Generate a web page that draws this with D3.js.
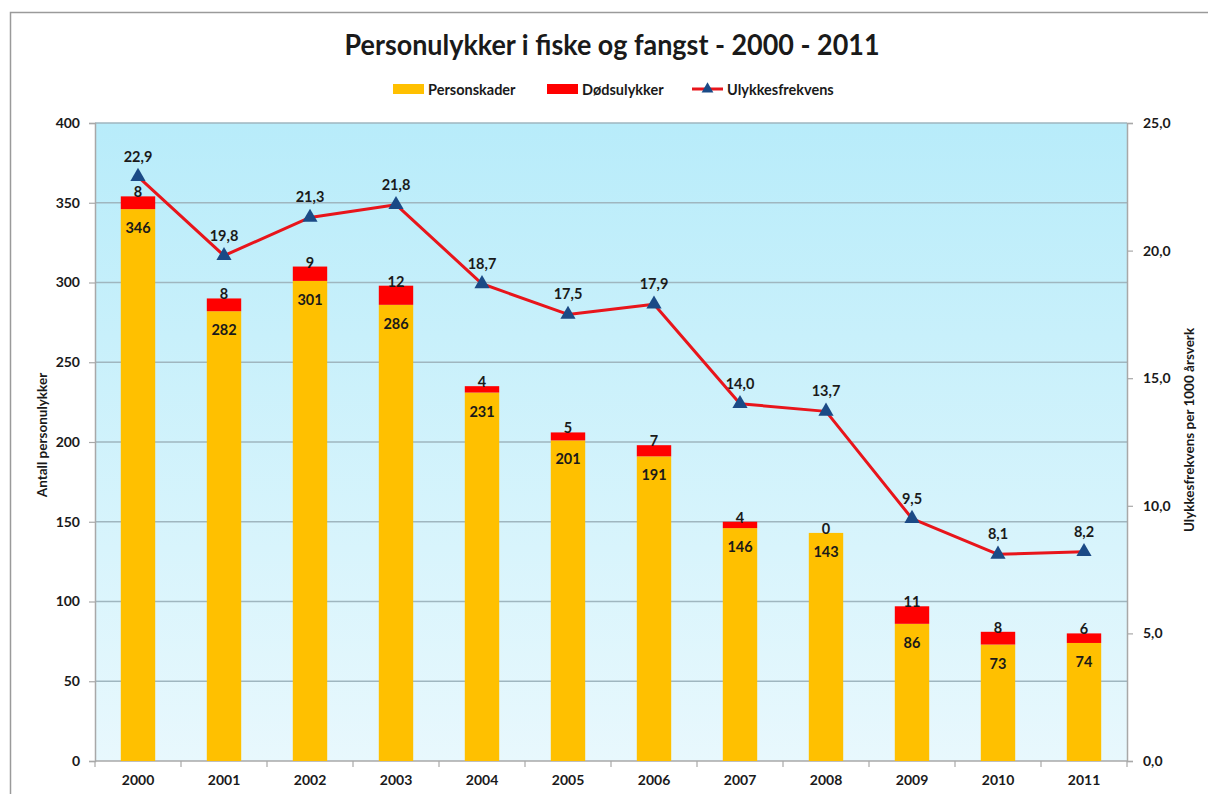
<!DOCTYPE html>
<html><head><meta charset="utf-8">
<script src="https://cdn.jsdelivr.net/npm/d3@7"></script>
<style>
html,body{margin:0;padding:0;background:#fff;}
text{font-family:Lato,"Open Sans",sans-serif;}
</style></head>
<body>
<svg id="chart" width="1208" height="794"></svg>
<script>
const years = ["2000","2001","2002","2003","2004","2005","2006","2007","2008","2009","2010","2011"];
const personskader = [346,282,301,286,231,201,191,146,143,86,73,74];
const dodsulykker = [8,8,9,12,4,5,7,4,0,11,8,6];
const frekvens = [22.9,19.8,21.3,21.8,18.7,17.5,17.9,14.0,13.7,9.5,8.1,8.2];
const leftTicks = [0,50,100,150,200,250,300,350,400];
const rightTicks = [0,5,10,15,20,25];

const svg = d3.select("#chart");
const m = {left:95, right:1127, top:123, bottom:761};

// outer frame
svg.append("rect").attr("x",10.5).attr("y",12.5).attr("width",1220).attr("height",800)
  .attr("fill","#fff").attr("stroke","#9a9a9a").attr("stroke-width",1.5);

const defs = svg.append("defs");
const grad = defs.append("linearGradient").attr("id","bg").attr("x1",0).attr("y1",0).attr("x2",0).attr("y2",1);
grad.append("stop").attr("offset","0%").attr("stop-color","#B8ECFA");
grad.append("stop").attr("offset","100%").attr("stop-color","#E8F8FD");

const x = d3.scaleBand().domain(years).range([m.left,m.right]).paddingInner(0.6).paddingOuter(0.3);
const xb = d3.scaleBand().domain(years).range([m.left,m.right]);
const yL = d3.scaleLinear().domain([0,400]).range([m.bottom,m.top]);
const yR = d3.scaleLinear().domain([0,25]).range([m.bottom,m.top]);

svg.append("rect").attr("x",m.left).attr("y",m.top).attr("width",m.right-m.left).attr("height",m.bottom-m.top)
  .attr("fill","url(#bg)");

// gridlines
svg.append("g").selectAll("line").data(leftTicks.filter(d=>d>0)).join("line")
  .attr("x1",m.left).attr("x2",m.right).attr("y1",d=>yL(d)).attr("y2",d=>yL(d))
  .attr("stroke","#9fb6bf").attr("stroke-width",1.5);

// axes
const axL = svg.append("g").attr("transform",`translate(${m.left},0)`)
  .call(d3.axisLeft(yL).tickValues(leftTicks).tickSize(6).tickPadding(9).tickFormat(d3.format("d")));
const axR = svg.append("g").attr("transform",`translate(${m.right},0)`)
  .call(d3.axisRight(yR).tickValues(rightTicks).tickSize(6).tickPadding(10).tickFormat(d=>d3.format(".1f")(d).replace(".",",")));
const axB = svg.append("g").attr("transform",`translate(0,${m.bottom})`)
  .call(d3.axisBottom(x).tickSize(0).tickPadding(14));
svg.append("g").selectAll("line").data(years.concat(["end"])).join("line")
  .attr("x1",(d,i)=>m.left+i*xb.bandwidth()).attr("x2",(d,i)=>m.left+i*xb.bandwidth())
  .attr("y1",m.bottom).attr("y2",m.bottom+6).attr("stroke","#a8a8a8").attr("stroke-width",1.2);

[axL,axR,axB].forEach(a=>{
  a.select(".domain").attr("stroke","#a8a8a8").attr("stroke-width",1.5);
  a.selectAll(".tick line").attr("stroke","#a8a8a8").attr("stroke-width",1.2);
  a.selectAll("text").attr("font-size",14).attr("font-weight","bold").attr("fill","#1a1a1a")
   .style("font-family","Lato, sans-serif");
});
axB.select(".domain").attr("d",`M${m.left},0H${m.right}`);

// bars
const bars = svg.append("g");
bars.selectAll("rect.p").data(years).join("rect").attr("class","p")
  .attr("x",d=>x(d)).attr("width",x.bandwidth())
  .attr("y",(d,i)=>yL(personskader[i])).attr("height",(d,i)=>yL(0)-yL(personskader[i]))
  .attr("fill","#FFC000");
bars.selectAll("rect.d").data(years).join("rect").attr("class","d")
  .attr("x",d=>x(d)).attr("width",x.bandwidth())
  .attr("y",(d,i)=>yL(personskader[i]+dodsulykker[i])).attr("height",(d,i)=>yL(personskader[i])-yL(personskader[i]+dodsulykker[i]))
  .attr("fill","#FF0000");

// bar labels
const lab = svg.append("g").attr("font-size",14.5).attr("font-weight","bold").attr("fill","#1a1a1a").attr("text-anchor","middle");
lab.selectAll("text.p").data(years).join("text").attr("class","p")
  .attr("x",d=>x(d)+x.bandwidth()/2).attr("y",(d,i)=>yL(personskader[i])+24)
  .text((d,i)=>personskader[i]);
lab.selectAll("text.d").data(years).join("text").attr("class","d")
  .attr("x",d=>x(d)+x.bandwidth()/2).attr("y",(d,i)=>yL(personskader[i]+dodsulykker[i])+1)
  .text((d,i)=>dodsulykker[i]);

// line
const cx = d=>x(d)+x.bandwidth()/2;
const line = d3.line().x((d,i)=>cx(years[i])).y(d=>yR(d));
svg.append("path").datum(frekvens).attr("d",line).attr("fill","none")
  .attr("stroke","#E8151B").attr("stroke-width",3).attr("stroke-linejoin","round");
const tri = d3.symbol().type(d3.symbolTriangle).size(100);
svg.append("g").selectAll("path").data(frekvens).join("path")
  .attr("d",tri).attr("transform",(d,i)=>`translate(${cx(years[i])},${yR(d)})`)
  .attr("fill","#1B4A86");
lab.selectAll("text.f").data(frekvens).join("text").attr("class","f")
  .attr("x",(d,i)=>cx(years[i])).attr("y",d=>yR(d)-15)
  .text(d=>d3.format(".1f")(d).replace(".",","));

// title
svg.append("text").attr("x",612).attr("y",55).attr("text-anchor","middle")
  .attr("font-size",28).attr("font-weight","bold").attr("fill","#1a1a1a")
  .attr("textLength",535).attr("lengthAdjust","spacingAndGlyphs")
  .text("Personulykker i fiske og fangst - 2000 - 2011");

// axis titles
svg.append("text").attr("transform","translate(47,435) rotate(-90)").attr("text-anchor","middle")
  .attr("font-size",13.5).attr("font-weight","bold").attr("fill","#1a1a1a").text("Antall personulykker");
svg.append("text").attr("transform","translate(1194,430) rotate(-90)").attr("text-anchor","middle")
  .attr("font-size",13.5).attr("font-weight","bold").attr("fill","#1a1a1a").text("Ulykkesfrekvens per 1000 årsverk");

// legend
const leg = svg.append("g").attr("font-size",14.5).attr("font-weight","bold").attr("fill","#1a1a1a");
const legItems = [
  {name:"Personskader", type:"rect", color:"#FFC000", x:393},
  {name:"Dødsulykker", type:"rect", color:"#FF0000", x:547},
  {name:"Ulykkesfrekvens", type:"line", color:"#E8151B", x:692}
];
legItems.forEach(it=>{
  if(it.type==="rect"){
    leg.append("rect").attr("x",it.x).attr("y",84).attr("width",31).attr("height",10).attr("fill",it.color);
  } else {
    leg.append("line").attr("x1",it.x).attr("x2",it.x+31).attr("y1",89).attr("y2",89).attr("stroke",it.color).attr("stroke-width",3);
    leg.append("path").attr("d",d3.symbol().type(d3.symbolTriangle).size(60)).attr("transform",`translate(${it.x+15.5},89)`).attr("fill","#1B4A86");
  }
  leg.append("text").attr("x",it.x+35).attr("y",94.5).text(it.name);
});
</script>
</body></html>
